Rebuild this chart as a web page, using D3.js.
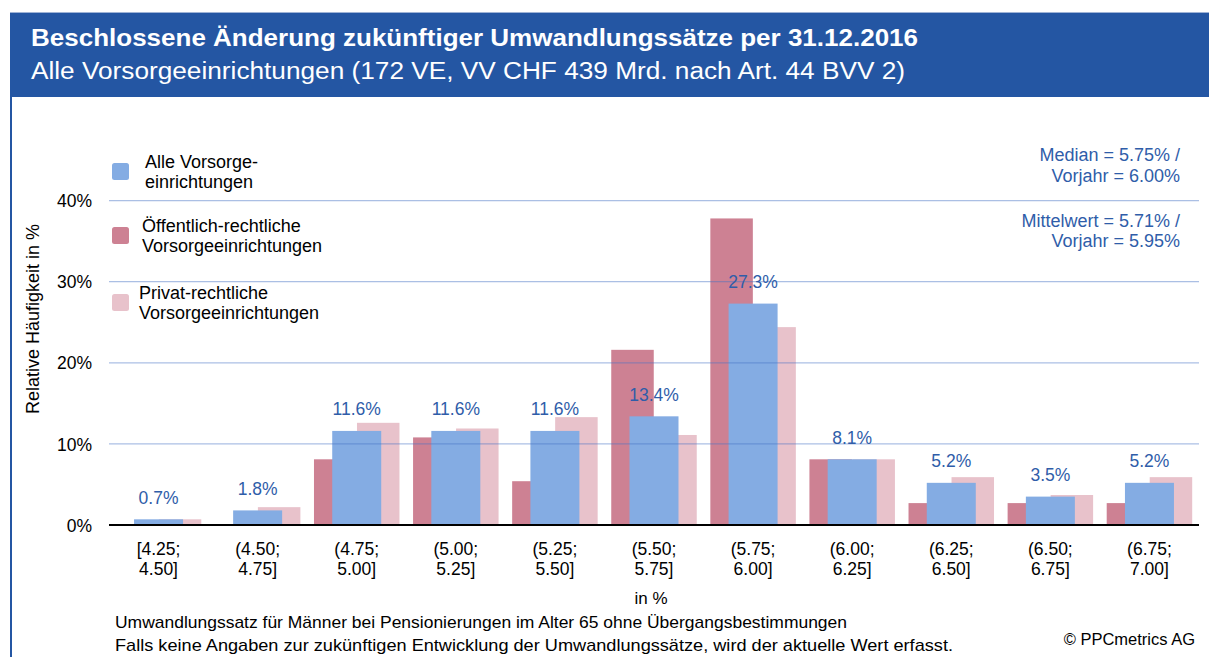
<!DOCTYPE html>
<html><head><meta charset="utf-8">
<script src="https://cdn.jsdelivr.net/npm/d3@7"></script>
<style>
html,body{margin:0;padding:0;background:#fff;}
svg{display:block;font-family:Arial,"Liberation Sans",sans-serif;}
</style></head>
<body>
<svg id="chart" width="1209" height="657"></svg>
<script>
const categories = ["[4.25; 4.50]","(4.50; 4.75]","(4.75; 5.00]","(5.00; 5.25]","(5.25; 5.50]","(5.50; 5.75]","(5.75; 6.00]","(6.00; 6.25]","(6.25; 6.50]","(6.50; 6.75]","(6.75; 7.00]"];
const alleVE = [0.7,1.8,11.6,11.6,11.6,13.4,27.3,8.1,5.2,3.5,5.2];
const oeffVE = [0,0,8.1,10.8,5.4,21.6,37.8,8.1,2.7,2.7,2.7];
const privVE = [0.7,2.2,12.6,11.9,13.3,11.1,24.4,8.1,5.9,3.7,5.9];
const yTicks = [0,10,20,30,40];
const seriesNames = ["Alle Vorsorge-|einrichtungen","Öffentlich-rechtliche|Vorsorgeeinrichtungen","Privat-rechtliche|Vorsorgeeinrichtungen"];
const annotations = ["Median = 5.75% /","Vorjahr = 6.00%","Mittelwert = 5.71% /","Vorjahr = 5.95%"];

const C = {blue:"#84ACE3", red:"#CD8193", pink:"#E8C2CB", head:"#2456A3", lab:"#2F5DA9"};
const svg = d3.select("#chart");

// header
svg.append("rect").attr("x",10).attr("y",12).attr("width",1199).attr("height",85).attr("fill",C.head);
svg.append("line").attr("x1",10).attr("x2",1209).attr("y1",12.5).attr("y2",12.5).attr("stroke","#9FB3D6").attr("stroke-width",1);
svg.append("rect").attr("x",10).attr("y",97).attr("width",2).attr("height",560).attr("fill",C.head);
svg.append("text").attr("x",31).attr("y",46).attr("fill","#fff").attr("font-weight","bold").attr("font-size",24)
  .attr("textLength",887).attr("lengthAdjust","spacingAndGlyphs")
  .text("Beschlossene Änderung zukünftiger Umwandlungssätze per 31.12.2016");
svg.append("text").attr("x",31).attr("y",78.5).attr("fill","#fff").attr("font-size",23.5)
  .attr("textLength",874).attr("lengthAdjust","spacingAndGlyphs")
  .text("Alle Vorsorgeeinrichtungen (172 VE, VV CHF 439 Mrd. nach Art. 44 BVV 2)");

// scales
const x0 = d3.scaleBand().domain(categories).range([109,1199]).padding(0);
const y = d3.scaleLinear().domain([0,40]).range([525,200.6]);
const off = d3.scalePoint().domain(["oeff","alle","priv"]).range([-21.5,21.5]);
const wSmall = 42.5, wBig = 49;

const g = svg.append("g");
const series = [
  {key:"oeff", vals:oeffVE, color:C.red, w:wSmall},
  {key:"priv", vals:privVE, color:C.pink, w:wSmall},
  {key:"alle", vals:alleVE, color:C.blue, w:wBig}
];
series.forEach(s=>{
  g.selectAll(null).data(categories).enter().append("rect")
    .attr("x",(c)=>x0(c)+x0.bandwidth()/2+off(s.key)-s.w/2)
    .attr("width",s.w)
    .attr("y",(c,i)=>y(s.vals[i]))
    .attr("height",(c,i)=>y(0)-y(s.vals[i]))
    .attr("fill",s.color);
});

// y axis + gridlines on top
const yAxis = d3.axisLeft(y).tickValues(yTicks).tickFormat(d=>d+"%").tickSize(0).tickPadding(17);
const ya = svg.append("g").attr("transform","translate(109,0)").call(yAxis);
ya.select(".domain").remove();
ya.selectAll("text").attr("font-size",17.5).attr("fill","#000").attr("font-family",null).attr("dy","0.35em");
svg.append("g").selectAll("line").data(yTicks.filter(t=>t>0)).enter().append("line")
  .attr("x1",109).attr("x2",1199).attr("y1",d=>y(d)).attr("y2",d=>y(d))
  .attr("stroke","#4472C4").attr("stroke-opacity",0.45).attr("stroke-width",1.3);
svg.append("line").attr("x1",109).attr("x2",1199).attr("y1",y(0)).attr("y2",y(0)).attr("stroke","#000").attr("stroke-width",2);

// value labels
svg.append("g").selectAll("text").data(categories).enter().append("text")
  .attr("x",c=>x0(c)+x0.bandwidth()/2+off("alle"))
  .attr("y",(c,i)=>y(alleVE[i])-15.5)
  .attr("text-anchor","middle").attr("font-size",17.5).attr("fill",C.lab)
  .text((c,i)=>alleVE[i].toFixed(1)+"%");

// x axis labels
const xa = svg.append("g").selectAll("text").data(categories).enter().append("text")
  .attr("text-anchor","middle").attr("font-size",17.5).attr("fill","#000");
xa.each(function(c){
  const parts = c.split(" ");
  const t = d3.select(this);
  parts.forEach((p,k)=>t.append("tspan").attr("x",x0(c)+x0.bandwidth()/2).attr("y",555+k*19.5).text(p));
});
svg.append("text").attr("x",651).attr("y",604).attr("text-anchor","middle").attr("font-size",17).text("in %");

// y title
svg.append("text").attr("transform","translate(38.5,319) rotate(-90)").attr("text-anchor","middle")
  .attr("font-size",18).text("Relative Häufigkeit in %");

// legend
const legY = [163,227,294];
const legTx = [145,142,139];
const legCol = [C.blue,C.red,C.pink];
seriesNames.forEach((n,i)=>{
  svg.append("rect").attr("x",112).attr("y",legY[i]).attr("width",17).attr("height",17).attr("rx",2.5).attr("fill",legCol[i]);
  const t = svg.append("text").attr("font-size",18).attr("fill","#000");
  n.split("|").forEach((p,k)=>t.append("tspan").attr("x",legTx[i]).attr("y",legY[i]+4.5+k*20.5).text(p));
});

// annotations
const annY = [161,181.5,227,247];
annotations.forEach((a,i)=>{
  svg.append("text").attr("x",1180).attr("y",annY[i]).attr("text-anchor","end").attr("font-size",18).attr("fill",C.lab).text(a);
});

// footer
svg.append("text").attr("x",115).attr("y",628).attr("font-size",17)
  .attr("textLength",732).attr("lengthAdjust","spacingAndGlyphs")
  .text("Umwandlungssatz für Männer bei Pensionierungen im Alter 65 ohne Übergangsbestimmungen");
svg.append("text").attr("x",115).attr("y",651).attr("font-size",17)
  .attr("textLength",838).attr("lengthAdjust","spacingAndGlyphs")
  .text("Falls keine Angaben zur zukünftigen Entwicklung der Umwandlungssätze, wird der aktuelle Wert erfasst.");
svg.append("text").attr("x",1195).attr("y",645).attr("text-anchor","end").attr("font-size",16.5).text("© PPCmetrics AG");
</script>
</body></html>
